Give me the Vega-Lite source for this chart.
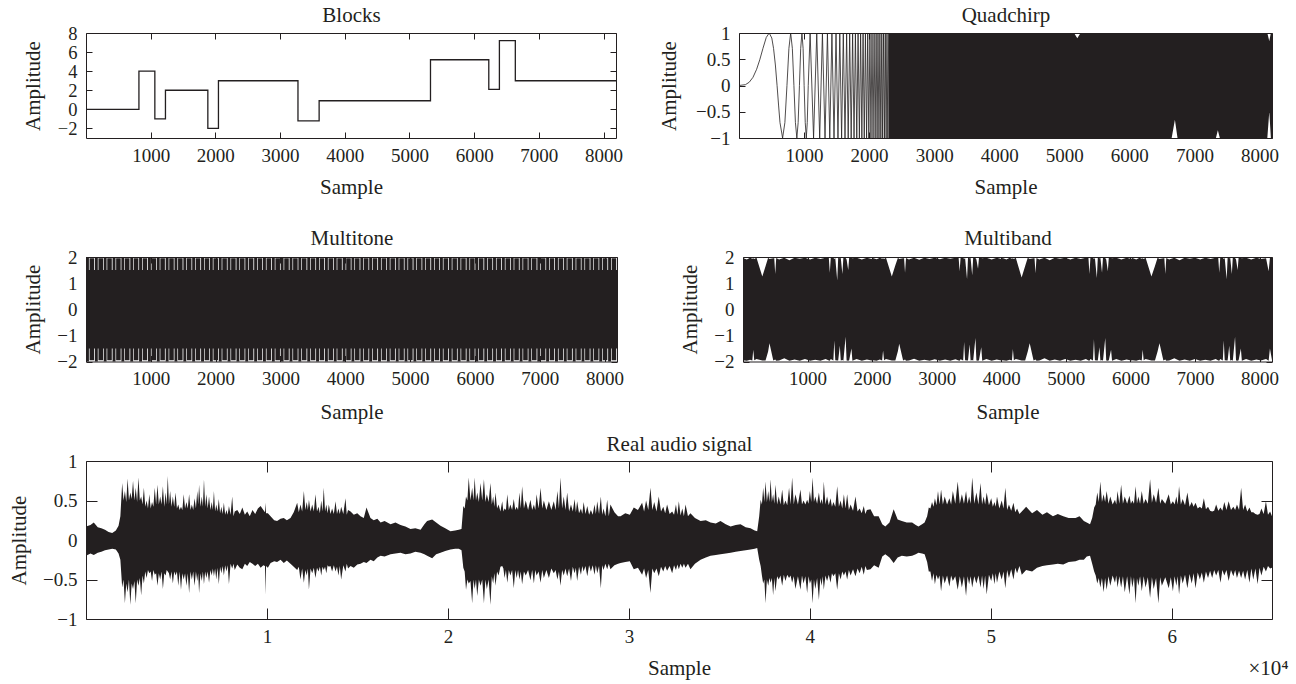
{
"$schema": "https://vega.github.io/schema/vega-lite/v6.json",
"padding": {"left": 1, "top": 3, "right": 5, "bottom": 5},
"spacing": 0,
"datasets": {
"blocks": [{"x":1,"y":0},{"x":819,"y":4},{"x":1065,"y":-1},{"x":1229,"y":2},{"x":1884,"y":-2},{"x":2048,"y":3},{"x":3277,"y":-1.2},{"x":3604,"y":0.9},{"x":5325,"y":5.2},{"x":6226,"y":2.1},{"x":6390,"y":7.2},{"x":6636,"y":3},{"x":8192,"y":3}],
"chirp": [{"x":1,"y":0},{"x":100,"y":0.016},{"x":159,"y":0.063},{"x":216,"y":0.156},{"x":272,"y":0.309},{"x":320,"y":0.489},{"x":369,"y":0.707},{"x":420,"y":0.915},{"x":465,"y":1},{"x":505,"y":0.905},{"x":532,"y":0.707},{"x":560,"y":0.391},{"x":586,"y":0},{"x":610,"y":-0.39},{"x":631,"y":-0.707},{"x":671,"y":-1},{"x":706,"y":-0.707},{"x":738,"y":0},{"x":768,"y":0.707},{"x":795,"y":1},{"x":821,"y":0.707},{"x":845,"y":0},{"x":868,"y":-0.707},{"x":890,"y":-1},{"x":910,"y":-0.707},{"x":930,"y":0},{"x":949,"y":0.707},{"x":968,"y":1},{"x":986,"y":0.707},{"x":1002,"y":0},{"x":1019,"y":-0.707},{"x":1035,"y":-1},{"x":1050,"y":-0.707},{"x":1065,"y":0},{"x":1094,"y":1},{"x":1147,"y":-1},{"x":1196,"y":1},{"x":1241,"y":-1},{"x":1283,"y":1},{"x":1323,"y":-1},{"x":1360,"y":1},{"x":1396,"y":-1},{"x":1429,"y":1},{"x":1461,"y":-1},{"x":1492,"y":1},{"x":1522,"y":-1},{"x":1550,"y":1},{"x":1578,"y":-1},{"x":1604,"y":1},{"x":1630,"y":-1},{"x":1655,"y":1},{"x":1679,"y":-1},{"x":1702,"y":1},{"x":1725,"y":-1},{"x":1747,"y":1},{"x":1769,"y":-1},{"x":1790,"y":1},{"x":1811,"y":-1},{"x":1831,"y":1},{"x":1851,"y":-1},{"x":1870,"y":1},{"x":1889,"y":-1},{"x":1908,"y":1},{"x":1926,"y":-1},{"x":1944,"y":1},{"x":1962,"y":-1},{"x":1979,"y":1},{"x":1996,"y":-1},{"x":2013,"y":1},{"x":2029,"y":-1},{"x":2045,"y":1},{"x":2061,"y":-1},{"x":2077,"y":1},{"x":2093,"y":-1},{"x":2108,"y":1},{"x":2123,"y":-1},{"x":2137,"y":1},{"x":2152,"y":-1},{"x":2166,"y":1},{"x":2181,"y":-1},{"x":2195,"y":1},{"x":2208,"y":-1},{"x":2222,"y":1},{"x":2236,"y":-1},{"x":2249,"y":1},{"x":2262,"y":-1},{"x":2275,"y":1},{"x":2288,"y":-1},{"x":2301,"y":1}],
"chirpband": [{"x":2300,"h":1,"l":-1},{"x":5150,"h":1,"l":-1},{"x":5200,"h":0.9,"l":-1},{"x":5250,"h":1,"l":-1},{"x":6650,"h":1,"l":-1},{"x":6700,"h":1,"l":-0.65},{"x":6740,"h":1,"l":-1},{"x":7330,"h":1,"l":-1},{"x":7360,"h":1,"l":-0.85},{"x":7390,"h":1,"l":-1},{"x":8120,"h":1,"l":-1},{"x":8150,"h":0.85,"l":-0.5},{"x":8175,"h":1,"l":-1},{"x":8192,"h":1,"l":-1}],
"multitone": [
{"x":1,"h":2,"l":-2},{"x":46,"h":1.5,"l":-1.5},{"x":56,"h":1.95,"l":-1.95},{"x":126,"h":1.5,"l":-1.5},
{"x":138,"h":2,"l":-2},{"x":183,"h":1.5,"l":-1.5},{"x":193,"h":1.95,"l":-1.95},{"x":263,"h":1.5,"l":-1.5},
{"x":274,"h":2,"l":-2},{"x":319,"h":1.5,"l":-1.5},{"x":329,"h":1.95,"l":-1.95},{"x":399,"h":1.5,"l":-1.5},
{"x":411,"h":2,"l":-2},{"x":456,"h":1.5,"l":-1.5},{"x":466,"h":1.95,"l":-1.95},{"x":536,"h":1.5,"l":-1.5},
{"x":547,"h":2,"l":-2},{"x":592,"h":1.5,"l":-1.5},{"x":602,"h":1.95,"l":-1.95},{"x":672,"h":1.5,"l":-1.5},
{"x":684,"h":2,"l":-2},{"x":729,"h":1.5,"l":-1.5},{"x":739,"h":1.95,"l":-1.95},{"x":809,"h":1.5,"l":-1.5},
{"x":820,"h":2,"l":-2},{"x":865,"h":1.5,"l":-1.5},{"x":875,"h":1.95,"l":-1.95},{"x":945,"h":1.5,"l":-1.5},
{"x":957,"h":2,"l":-2},{"x":1002,"h":1.5,"l":-1.5},{"x":1012,"h":1.95,"l":-1.95},{"x":1082,"h":1.5,"l":-1.5},
{"x":1093,"h":2,"l":-2},{"x":1138,"h":1.5,"l":-1.5},{"x":1148,"h":1.95,"l":-1.95},{"x":1218,"h":1.5,"l":-1.5},
{"x":1230,"h":2,"l":-2},{"x":1275,"h":1.5,"l":-1.5},{"x":1285,"h":1.95,"l":-1.95},{"x":1355,"h":1.5,"l":-1.5},
{"x":1366,"h":2,"l":-2},{"x":1411,"h":1.5,"l":-1.5},{"x":1421,"h":1.95,"l":-1.95},{"x":1491,"h":1.5,"l":-1.5},
{"x":1503,"h":2,"l":-2},{"x":1548,"h":1.5,"l":-1.5},{"x":1558,"h":1.95,"l":-1.95},{"x":1628,"h":1.5,"l":-1.5},
{"x":1639,"h":2,"l":-2},{"x":1684,"h":1.5,"l":-1.5},{"x":1694,"h":1.95,"l":-1.95},{"x":1764,"h":1.5,"l":-1.5},
{"x":1776,"h":2,"l":-2},{"x":1821,"h":1.5,"l":-1.5},{"x":1831,"h":1.95,"l":-1.95},{"x":1901,"h":1.5,"l":-1.5},
{"x":1912,"h":2,"l":-2},{"x":1957,"h":1.5,"l":-1.5},{"x":1967,"h":1.95,"l":-1.95},{"x":2037,"h":1.5,"l":-1.5},
{"x":2049,"h":2,"l":-2},{"x":2094,"h":1.5,"l":-1.5},{"x":2104,"h":1.95,"l":-1.95},{"x":2174,"h":1.5,"l":-1.5},
{"x":2185,"h":2,"l":-2},{"x":2230,"h":1.5,"l":-1.5},{"x":2240,"h":1.95,"l":-1.95},{"x":2310,"h":1.5,"l":-1.5},
{"x":2322,"h":2,"l":-2},{"x":2367,"h":1.5,"l":-1.5},{"x":2377,"h":1.95,"l":-1.95},{"x":2447,"h":1.5,"l":-1.5},
{"x":2458,"h":2,"l":-2},{"x":2503,"h":1.5,"l":-1.5},{"x":2513,"h":1.95,"l":-1.95},{"x":2583,"h":1.5,"l":-1.5},
{"x":2595,"h":2,"l":-2},{"x":2640,"h":1.5,"l":-1.5},{"x":2650,"h":1.95,"l":-1.95},{"x":2720,"h":1.5,"l":-1.5},
{"x":2731,"h":2,"l":-2},{"x":2776,"h":1.5,"l":-1.5},{"x":2786,"h":1.95,"l":-1.95},{"x":2856,"h":1.5,"l":-1.5},
{"x":2868,"h":2,"l":-2},{"x":2913,"h":1.5,"l":-1.5},{"x":2923,"h":1.95,"l":-1.95},{"x":2993,"h":1.5,"l":-1.5},
{"x":3004,"h":2,"l":-2},{"x":3049,"h":1.5,"l":-1.5},{"x":3059,"h":1.95,"l":-1.95},{"x":3129,"h":1.5,"l":-1.5},
{"x":3141,"h":2,"l":-2},{"x":3186,"h":1.5,"l":-1.5},{"x":3196,"h":1.95,"l":-1.95},{"x":3266,"h":1.5,"l":-1.5},
{"x":3277,"h":2,"l":-2},{"x":3322,"h":1.5,"l":-1.5},{"x":3332,"h":1.95,"l":-1.95},{"x":3402,"h":1.5,"l":-1.5},
{"x":3414,"h":2,"l":-2},{"x":3459,"h":1.5,"l":-1.5},{"x":3469,"h":1.95,"l":-1.95},{"x":3539,"h":1.5,"l":-1.5},
{"x":3550,"h":2,"l":-2},{"x":3595,"h":1.5,"l":-1.5},{"x":3605,"h":1.95,"l":-1.95},{"x":3675,"h":1.5,"l":-1.5},
{"x":3687,"h":2,"l":-2},{"x":3732,"h":1.5,"l":-1.5},{"x":3742,"h":1.95,"l":-1.95},{"x":3812,"h":1.5,"l":-1.5},
{"x":3823,"h":2,"l":-2},{"x":3868,"h":1.5,"l":-1.5},{"x":3878,"h":1.95,"l":-1.95},{"x":3948,"h":1.5,"l":-1.5},
{"x":3960,"h":2,"l":-2},{"x":4005,"h":1.5,"l":-1.5},{"x":4015,"h":1.95,"l":-1.95},{"x":4085,"h":1.5,"l":-1.5},
{"x":4096,"h":2,"l":-2},{"x":4141,"h":1.5,"l":-1.5},{"x":4151,"h":1.95,"l":-1.95},{"x":4221,"h":1.5,"l":-1.5},
{"x":4233,"h":2,"l":-2},{"x":4278,"h":1.5,"l":-1.5},{"x":4288,"h":1.95,"l":-1.95},{"x":4358,"h":1.5,"l":-1.5},
{"x":4369,"h":2,"l":-2},{"x":4414,"h":1.5,"l":-1.5},{"x":4424,"h":1.95,"l":-1.95},{"x":4494,"h":1.5,"l":-1.5},
{"x":4506,"h":2,"l":-2},{"x":4551,"h":1.5,"l":-1.5},{"x":4561,"h":1.95,"l":-1.95},{"x":4631,"h":1.5,"l":-1.5},
{"x":4642,"h":2,"l":-2},{"x":4687,"h":1.5,"l":-1.5},{"x":4697,"h":1.95,"l":-1.95},{"x":4767,"h":1.5,"l":-1.5},
{"x":4779,"h":2,"l":-2},{"x":4824,"h":1.5,"l":-1.5},{"x":4834,"h":1.95,"l":-1.95},{"x":4904,"h":1.5,"l":-1.5},
{"x":4915,"h":2,"l":-2},{"x":4960,"h":1.5,"l":-1.5},{"x":4970,"h":1.95,"l":-1.95},{"x":5040,"h":1.5,"l":-1.5},
{"x":5052,"h":2,"l":-2},{"x":5097,"h":1.5,"l":-1.5},{"x":5107,"h":1.95,"l":-1.95},{"x":5177,"h":1.5,"l":-1.5},
{"x":5188,"h":2,"l":-2},{"x":5233,"h":1.5,"l":-1.5},{"x":5243,"h":1.95,"l":-1.95},{"x":5313,"h":1.5,"l":-1.5},
{"x":5325,"h":2,"l":-2},{"x":5370,"h":1.5,"l":-1.5},{"x":5380,"h":1.95,"l":-1.95},{"x":5450,"h":1.5,"l":-1.5},
{"x":5461,"h":2,"l":-2},{"x":5506,"h":1.5,"l":-1.5},{"x":5516,"h":1.95,"l":-1.95},{"x":5586,"h":1.5,"l":-1.5},
{"x":5598,"h":2,"l":-2},{"x":5643,"h":1.5,"l":-1.5},{"x":5653,"h":1.95,"l":-1.95},{"x":5723,"h":1.5,"l":-1.5},
{"x":5734,"h":2,"l":-2},{"x":5779,"h":1.5,"l":-1.5},{"x":5789,"h":1.95,"l":-1.95},{"x":5859,"h":1.5,"l":-1.5},
{"x":5871,"h":2,"l":-2},{"x":5916,"h":1.5,"l":-1.5},{"x":5926,"h":1.95,"l":-1.95},{"x":5996,"h":1.5,"l":-1.5},
{"x":6007,"h":2,"l":-2},{"x":6052,"h":1.5,"l":-1.5},{"x":6062,"h":1.95,"l":-1.95},{"x":6132,"h":1.5,"l":-1.5},
{"x":6144,"h":2,"l":-2},{"x":6189,"h":1.5,"l":-1.5},{"x":6199,"h":1.95,"l":-1.95},{"x":6269,"h":1.5,"l":-1.5},
{"x":6280,"h":2,"l":-2},{"x":6325,"h":1.5,"l":-1.5},{"x":6335,"h":1.95,"l":-1.95},{"x":6405,"h":1.5,"l":-1.5},
{"x":6417,"h":2,"l":-2},{"x":6462,"h":1.5,"l":-1.5},{"x":6472,"h":1.95,"l":-1.95},{"x":6542,"h":1.5,"l":-1.5},
{"x":6553,"h":2,"l":-2},{"x":6598,"h":1.5,"l":-1.5},{"x":6608,"h":1.95,"l":-1.95},{"x":6678,"h":1.5,"l":-1.5},
{"x":6690,"h":2,"l":-2},{"x":6735,"h":1.5,"l":-1.5},{"x":6745,"h":1.95,"l":-1.95},{"x":6815,"h":1.5,"l":-1.5},
{"x":6826,"h":2,"l":-2},{"x":6871,"h":1.5,"l":-1.5},{"x":6881,"h":1.95,"l":-1.95},{"x":6951,"h":1.5,"l":-1.5},
{"x":6963,"h":2,"l":-2},{"x":7008,"h":1.5,"l":-1.5},{"x":7018,"h":1.95,"l":-1.95},{"x":7088,"h":1.5,"l":-1.5},
{"x":7099,"h":2,"l":-2},{"x":7144,"h":1.5,"l":-1.5},{"x":7154,"h":1.95,"l":-1.95},{"x":7224,"h":1.5,"l":-1.5},
{"x":7236,"h":2,"l":-2},{"x":7281,"h":1.5,"l":-1.5},{"x":7291,"h":1.95,"l":-1.95},{"x":7361,"h":1.5,"l":-1.5},
{"x":7372,"h":2,"l":-2},{"x":7417,"h":1.5,"l":-1.5},{"x":7427,"h":1.95,"l":-1.95},{"x":7497,"h":1.5,"l":-1.5},
{"x":7509,"h":2,"l":-2},{"x":7554,"h":1.5,"l":-1.5},{"x":7564,"h":1.95,"l":-1.95},{"x":7634,"h":1.5,"l":-1.5},
{"x":7645,"h":2,"l":-2},{"x":7690,"h":1.5,"l":-1.5},{"x":7700,"h":1.95,"l":-1.95},{"x":7770,"h":1.5,"l":-1.5},
{"x":7782,"h":2,"l":-2},{"x":7827,"h":1.5,"l":-1.5},{"x":7837,"h":1.95,"l":-1.95},{"x":7907,"h":1.5,"l":-1.5},
{"x":7918,"h":2,"l":-2},{"x":7963,"h":1.5,"l":-1.5},{"x":7973,"h":1.95,"l":-1.95},{"x":8043,"h":1.5,"l":-1.5},
{"x":8055,"h":2,"l":-2},{"x":8100,"h":1.5,"l":-1.5},{"x":8110,"h":1.95,"l":-1.95},{"x":8180,"h":1.5,"l":-1.5},
{"x":8192,"h":1.95,"l":-1.95}],
"multiband": [{"x":1,"h":1.96,"l":-1.95},{"x":60,"h":1.9,"l":-1.97},{"x":110,"h":1.97,"l":-1.93},{"x":145,"h":1.93,"l":-1.96},{"x":160,"h":1.95,"l":-1.55},{"x":175,"h":1.92,"l":-1.95},{"x":210,"h":1.97,"l":-1.9},{"x":300,"h":1.25,"l":-1.96},{"x":350,"h":1.65,"l":-1.96},{"x":390,"h":1.97,"l":-1.62},{"x":411,"h":1.92,"l":-1.3},{"x":470,"h":1.95,"l":-1.96},{"x":485,"h":1.95,"l":-1.94},{"x":500,"h":1.35,"l":-1.92},{"x":515,"h":1.96,"l":-1.97},{"x":560,"h":1.9,"l":-1.96},{"x":640,"h":1.97,"l":-1.88},{"x":720,"h":1.88,"l":-1.97},{"x":800,"h":1.97,"l":-1.92},{"x":880,"h":1.93,"l":-1.97},{"x":960,"h":1.97,"l":-1.9},{"x":1040,"h":1.9,"l":-1.97},{"x":1120,"h":1.97,"l":-1.93},{"x":1200,"h":1.92,"l":-1.97},{"x":1280,"h":1.97,"l":-1.9},{"x":1330,"h":1.96,"l":-1.96},{"x":1345,"h":1.4,"l":-1.97},{"x":1360,"h":1.96,"l":-1.9},{"x":1400,"h":1.97,"l":-1.96},{"x":1415,"h":1.92,"l":-1.2},{"x":1430,"h":1.96,"l":-1.95},{"x":1460,"h":1.1,"l":-1.96},{"x":1475,"h":1.97,"l":-1.96},{"x":1500,"h":1.95,"l":-1.4},{"x":1515,"h":1.96,"l":-1.96},{"x":1540,"h":1.35,"l":-1.94},{"x":1555,"h":1.97,"l":-1.97},{"x":1590,"h":1.96,"l":-1.05},{"x":1605,"h":1.9,"l":-1.96},{"x":1630,"h":1.5,"l":-1.97},{"x":1645,"h":1.97,"l":-1.95},{"x":1680,"h":1.96,"l":-1.5},{"x":1695,"h":1.95,"l":-1.97},{"x":1760,"h":1.97,"l":-1.9},{"x":1840,"h":1.9,"l":-1.97},{"x":1920,"h":1.97,"l":-1.92},{"x":1990,"h":1.92,"l":-1.96},
{"x":2010,"h":1.96,"l":-1.95},{"x":2070,"h":1.91,"l":-1.97},{"x":2120,"h":1.97,"l":-1.92},{"x":2155,"h":1.93,"l":-1.96},{"x":2170,"h":1.95,"l":-1.58},{"x":2185,"h":1.92,"l":-1.95},{"x":2215,"h":1.97,"l":-1.9},{"x":2305,"h":1.25,"l":-1.96},{"x":2360,"h":1.68,"l":-1.96},{"x":2400,"h":1.97,"l":-1.6},{"x":2420,"h":1.92,"l":-1.32},{"x":2480,"h":1.95,"l":-1.96},{"x":2495,"h":1.95,"l":-1.94},{"x":2510,"h":1.4,"l":-1.92},{"x":2525,"h":1.96,"l":-1.97},{"x":2570,"h":1.9,"l":-1.96},{"x":2650,"h":1.97,"l":-1.89},{"x":2730,"h":1.89,"l":-1.97},{"x":2810,"h":1.97,"l":-1.93},{"x":2890,"h":1.92,"l":-1.97},{"x":2970,"h":1.97,"l":-1.91},{"x":3050,"h":1.91,"l":-1.97},{"x":3130,"h":1.97,"l":-1.92},{"x":3210,"h":1.93,"l":-1.97},{"x":3290,"h":1.97,"l":-1.91},{"x":3340,"h":1.96,"l":-1.96},{"x":3355,"h":1.45,"l":-1.97},{"x":3370,"h":1.96,"l":-1.91},{"x":3410,"h":1.97,"l":-1.96},{"x":3425,"h":1.92,"l":-1.25},{"x":3440,"h":1.96,"l":-1.95},{"x":3470,"h":1.15,"l":-1.96},{"x":3485,"h":1.97,"l":-1.96},{"x":3510,"h":1.95,"l":-1.35},{"x":3525,"h":1.96,"l":-1.96},{"x":3550,"h":1.3,"l":-1.94},{"x":3565,"h":1.97,"l":-1.97},{"x":3600,"h":1.96,"l":-1.1},{"x":3615,"h":1.9,"l":-1.96},{"x":3640,"h":1.55,"l":-1.97},{"x":3655,"h":1.97,"l":-1.95},{"x":3690,"h":1.96,"l":-1.45},{"x":3705,"h":1.95,"l":-1.97},{"x":3770,"h":1.97,"l":-1.9},{"x":3850,"h":1.9,"l":-1.97},{"x":3930,"h":1.97,"l":-1.92},{"x":4000,"h":1.92,"l":-1.96},
{"x":4020,"h":1.96,"l":-1.95},{"x":4080,"h":1.9,"l":-1.97},{"x":4130,"h":1.97,"l":-1.93},{"x":4165,"h":1.93,"l":-1.96},{"x":4180,"h":1.95,"l":-1.52},{"x":4195,"h":1.92,"l":-1.95},{"x":4225,"h":1.97,"l":-1.9},{"x":4315,"h":1.22,"l":-1.96},{"x":4370,"h":1.66,"l":-1.96},{"x":4410,"h":1.97,"l":-1.62},{"x":4440,"h":1.92,"l":-1.3},{"x":4500,"h":1.95,"l":-1.96},{"x":4515,"h":1.95,"l":-1.94},{"x":4530,"h":1.38,"l":-1.92},{"x":4545,"h":1.96,"l":-1.97},{"x":4590,"h":1.9,"l":-1.96},{"x":4670,"h":1.97,"l":-1.88},{"x":4750,"h":1.88,"l":-1.97},{"x":4830,"h":1.97,"l":-1.92},{"x":4910,"h":1.93,"l":-1.97},{"x":4990,"h":1.97,"l":-1.9},{"x":5070,"h":1.9,"l":-1.97},{"x":5150,"h":1.97,"l":-1.93},{"x":5230,"h":1.92,"l":-1.97},{"x":5310,"h":1.97,"l":-1.9},{"x":5350,"h":1.96,"l":-1.96},{"x":5365,"h":1.35,"l":-1.97},{"x":5380,"h":1.96,"l":-1.9},{"x":5420,"h":1.97,"l":-1.96},{"x":5435,"h":1.92,"l":-1.15},{"x":5450,"h":1.96,"l":-1.95},{"x":5480,"h":1.2,"l":-1.96},{"x":5495,"h":1.97,"l":-1.96},{"x":5520,"h":1.95,"l":-1.45},{"x":5535,"h":1.96,"l":-1.96},{"x":5560,"h":1.4,"l":-1.94},{"x":5575,"h":1.97,"l":-1.97},{"x":5610,"h":1.96,"l":-1.1},{"x":5625,"h":1.9,"l":-1.96},{"x":5650,"h":1.45,"l":-1.97},{"x":5665,"h":1.97,"l":-1.95},{"x":5700,"h":1.96,"l":-1.55},{"x":5715,"h":1.95,"l":-1.97},{"x":5780,"h":1.97,"l":-1.9},{"x":5860,"h":1.9,"l":-1.97},{"x":5940,"h":1.97,"l":-1.92},{"x":6010,"h":1.92,"l":-1.96},
{"x":6030,"h":1.96,"l":-1.95},{"x":6090,"h":1.9,"l":-1.97},{"x":6140,"h":1.97,"l":-1.93},{"x":6175,"h":1.93,"l":-1.96},{"x":6190,"h":1.95,"l":-1.55},{"x":6205,"h":1.92,"l":-1.95},{"x":6235,"h":1.97,"l":-1.9},{"x":6325,"h":1.25,"l":-1.96},{"x":6380,"h":1.66,"l":-1.96},{"x":6420,"h":1.97,"l":-1.62},{"x":6450,"h":1.92,"l":-1.3},{"x":6510,"h":1.95,"l":-1.96},{"x":6525,"h":1.95,"l":-1.94},{"x":6540,"h":1.35,"l":-1.92},{"x":6555,"h":1.96,"l":-1.97},{"x":6600,"h":1.9,"l":-1.96},{"x":6680,"h":1.97,"l":-1.88},{"x":6760,"h":1.88,"l":-1.97},{"x":6840,"h":1.97,"l":-1.92},{"x":6920,"h":1.93,"l":-1.97},{"x":7000,"h":1.97,"l":-1.9},{"x":7080,"h":1.9,"l":-1.97},{"x":7160,"h":1.97,"l":-1.93},{"x":7240,"h":1.92,"l":-1.97},{"x":7320,"h":1.97,"l":-1.9},{"x":7360,"h":1.96,"l":-1.96},{"x":7375,"h":1.4,"l":-1.97},{"x":7390,"h":1.96,"l":-1.9},{"x":7430,"h":1.97,"l":-1.96},{"x":7445,"h":1.92,"l":-1.2},{"x":7460,"h":1.96,"l":-1.95},{"x":7490,"h":1.15,"l":-1.96},{"x":7505,"h":1.97,"l":-1.96},{"x":7530,"h":1.95,"l":-1.4},{"x":7545,"h":1.96,"l":-1.96},{"x":7570,"h":1.35,"l":-1.94},{"x":7585,"h":1.97,"l":-1.97},{"x":7620,"h":1.96,"l":-1.05},{"x":7635,"h":1.9,"l":-1.96},{"x":7660,"h":1.5,"l":-1.97},{"x":7675,"h":1.97,"l":-1.95},{"x":7710,"h":1.96,"l":-1.5},{"x":7725,"h":1.95,"l":-1.97},{"x":7790,"h":1.97,"l":-1.9},{"x":7870,"h":1.9,"l":-1.97},{"x":7950,"h":1.97,"l":-1.92},{"x":8020,"h":1.92,"l":-1.96},{"x":8100,"h":1.95,"l":-1.9},{"x":8140,"h":1.45,"l":-1.97},{"x":8160,"h":1.96,"l":-1.5},{"x":8192,"h":1.96,"l":-1.95}],
"audio": [{"x":1,"h":0.17,"l":-0.2},{"x":250,"h":0.19,"l":-0.17},{"x":430,"h":0.22,"l":-0.19},{"x":650,"h":0.16,"l":-0.16},{"x":850,"h":0.15,"l":-0.15},{"x":1050,"h":0.13,"l":-0.13},{"x":1250,"h":0.1,"l":-0.12},{"x":1450,"h":0.09,"l":-0.11},{"x":1650,"h":0.12,"l":-0.12},{"x":1800,"h":0.18,"l":-0.17},{"x":1900,"h":0.3,"l":-0.25},
{"x":2000,"h":0.72,"l":-0.6},{"x":2075,"h":0.5,"l":-0.5},{"x":2150,"h":0.62,"l":-0.8},{"x":2225,"h":0.48,"l":-0.55},{"x":2300,"h":0.78,"l":-0.66},{"x":2375,"h":0.5,"l":-0.5},{"x":2450,"h":0.6,"l":-0.82},{"x":2525,"h":0.52,"l":-0.55},{"x":2600,"h":0.75,"l":-0.62},{"x":2675,"h":0.5,"l":-0.52},{"x":2750,"h":0.66,"l":-0.8},{"x":2825,"h":0.48,"l":-0.5},{"x":2900,"h":0.79,"l":-0.58},{"x":2975,"h":0.5,"l":-0.48},{"x":3050,"h":0.55,"l":-0.7},{"x":3125,"h":0.45,"l":-0.45},{"x":3200,"h":0.66,"l":-0.55},{"x":3275,"h":0.42,"l":-0.4},{"x":3350,"h":0.5,"l":-0.48},{"x":3425,"h":0.4,"l":-0.38},{"x":3500,"h":0.58,"l":-0.42},{"x":3575,"h":0.4,"l":-0.4},{"x":3650,"h":0.48,"l":-0.52},{"x":3725,"h":0.42,"l":-0.38},{"x":3800,"h":0.66,"l":-0.44},{"x":3875,"h":0.45,"l":-0.42},{"x":3950,"h":0.7,"l":-0.58},{"x":4025,"h":0.45,"l":-0.42},{"x":4100,"h":0.55,"l":-0.5},{"x":4175,"h":0.45,"l":-0.4},{"x":4250,"h":0.68,"l":-0.62},{"x":4325,"h":0.42,"l":-0.42},{"x":4400,"h":0.6,"l":-0.45},{"x":4460,"h":0.45,"l":-0.38},{"x":4520,"h":0.81,"l":-0.4},{"x":4585,"h":0.45,"l":-0.42},{"x":4650,"h":0.62,"l":-0.5},{"x":4725,"h":0.42,"l":-0.4},{"x":4800,"h":0.55,"l":-0.55},{"x":4875,"h":0.42,"l":-0.4},{"x":4950,"h":0.6,"l":-0.45},{"x":5025,"h":0.4,"l":-0.4},{"x":5100,"h":0.45,"l":-0.58},{"x":5175,"h":0.38,"l":-0.4},{"x":5250,"h":0.42,"l":-0.63},{"x":5325,"h":0.38,"l":-0.42},{"x":5400,"h":0.58,"l":-0.5},{"x":5475,"h":0.4,"l":-0.42},{"x":5550,"h":0.48,"l":-0.58},{"x":5625,"h":0.4,"l":-0.42},{"x":5700,"h":0.58,"l":-0.67},{"x":5775,"h":0.38,"l":-0.4},{"x":5850,"h":0.45,"l":-0.5},{"x":5925,"h":0.38,"l":-0.4},{"x":6000,"h":0.53,"l":-0.58},{"x":6075,"h":0.4,"l":-0.4},{"x":6150,"h":0.62,"l":-0.52},{"x":6200,"h":0.45,"l":-0.42},{"x":6250,"h":0.7,"l":-0.67},{"x":6325,"h":0.42,"l":-0.42},{"x":6400,"h":0.55,"l":-0.52},{"x":6460,"h":0.42,"l":-0.4},{"x":6520,"h":0.77,"l":-0.56},{"x":6585,"h":0.42,"l":-0.4},{"x":6650,"h":0.58,"l":-0.48},{"x":6725,"h":0.4,"l":-0.4},{"x":6800,"h":0.55,"l":-0.54},{"x":6875,"h":0.38,"l":-0.38},{"x":6950,"h":0.48,"l":-0.45},{"x":7010,"h":0.38,"l":-0.36},{"x":7070,"h":0.62,"l":-0.46},{"x":7135,"h":0.36,"l":-0.36},{"x":7200,"h":0.45,"l":-0.5},{"x":7270,"h":0.36,"l":-0.35},{"x":7340,"h":0.52,"l":-0.56},{"x":7410,"h":0.34,"l":-0.34},{"x":7480,"h":0.42,"l":-0.42},{"x":7550,"h":0.33,"l":-0.33},{"x":7620,"h":0.47,"l":-0.45},{"x":7690,"h":0.32,"l":-0.32},{"x":7760,"h":0.38,"l":-0.4},{"x":7830,"h":0.32,"l":-0.32},{"x":7900,"h":0.43,"l":-0.56},{"x":7990,"h":0.32,"l":-0.3},{"x":8080,"h":0.55,"l":-0.36},{"x":8150,"h":0.3,"l":-0.3},
{"x":8220,"h":0.36,"l":-0.38},{"x":8360,"h":0.38,"l":-0.31},{"x":8500,"h":0.33,"l":-0.35},{"x":8640,"h":0.41,"l":-0.37},{"x":8780,"h":0.32,"l":-0.3},{"x":8910,"h":0.36,"l":-0.33},{"x":9050,"h":0.3,"l":-0.28},{"x":9200,"h":0.38,"l":-0.3},{"x":9350,"h":0.33,"l":-0.33},{"x":9500,"h":0.4,"l":-0.3},{"x":9650,"h":0.43,"l":-0.35},{"x":9800,"h":0.38,"l":-0.32},{"x":9890,"h":0.35,"l":-0.33},{"x":9920,"h":0.47,"l":-0.69},{"x":9950,"h":0.34,"l":-0.33},{"x":10050,"h":0.34,"l":-0.35},{"x":10200,"h":0.3,"l":-0.29},{"x":10400,"h":0.25,"l":-0.27},{"x":10560,"h":0.24,"l":-0.28},{"x":10750,"h":0.27,"l":-0.25},{"x":10930,"h":0.28,"l":-0.29},{"x":11100,"h":0.25,"l":-0.26},{"x":11300,"h":0.28,"l":-0.3},{"x":11480,"h":0.35,"l":-0.34},
{"x":11670,"h":0.47,"l":-0.38},{"x":11760,"h":0.35,"l":-0.34},{"x":11850,"h":0.45,"l":-0.5},{"x":11945,"h":0.36,"l":-0.36},{"x":12040,"h":0.62,"l":-0.54},{"x":12120,"h":0.38,"l":-0.38},{"x":12200,"h":0.48,"l":-0.45},{"x":12260,"h":0.38,"l":-0.36},{"x":12320,"h":0.51,"l":-0.63},{"x":12410,"h":0.36,"l":-0.36},{"x":12500,"h":0.45,"l":-0.42},{"x":12590,"h":0.36,"l":-0.35},{"x":12680,"h":0.58,"l":-0.48},{"x":12765,"h":0.36,"l":-0.35},{"x":12850,"h":0.42,"l":-0.4},{"x":12925,"h":0.34,"l":-0.34},{"x":13000,"h":0.5,"l":-0.45},{"x":13070,"h":0.36,"l":-0.34},{"x":13140,"h":0.66,"l":-0.38},{"x":13210,"h":0.36,"l":-0.34},{"x":13280,"h":0.45,"l":-0.42},{"x":13350,"h":0.34,"l":-0.32},{"x":13420,"h":0.45,"l":-0.34},{"x":13510,"h":0.33,"l":-0.33},{"x":13600,"h":0.4,"l":-0.4},{"x":13695,"h":0.33,"l":-0.32},{"x":13790,"h":0.49,"l":-0.4},{"x":13870,"h":0.33,"l":-0.34},{"x":13950,"h":0.4,"l":-0.45},{"x":14025,"h":0.33,"l":-0.33},{"x":14100,"h":0.42,"l":-0.5},{"x":14220,"h":0.33,"l":-0.32},{"x":14340,"h":0.53,"l":-0.4},{"x":14410,"h":0.32,"l":-0.3},{"x":14480,"h":0.38,"l":-0.36},
{"x":14620,"h":0.36,"l":-0.33},{"x":14800,"h":0.32,"l":-0.35},{"x":14990,"h":0.34,"l":-0.31},{"x":15170,"h":0.3,"l":-0.3},{"x":15350,"h":0.28,"l":-0.28},{"x":15500,"h":0.41,"l":-0.29},{"x":15720,"h":0.28,"l":-0.25},{"x":15900,"h":0.25,"l":-0.27},{"x":16100,"h":0.27,"l":-0.22},{"x":16280,"h":0.22,"l":-0.2},{"x":16500,"h":0.24,"l":-0.21},{"x":16830,"h":0.2,"l":-0.18},{"x":17100,"h":0.22,"l":-0.17},{"x":17380,"h":0.19,"l":-0.16},{"x":17650,"h":0.17,"l":-0.18},{"x":17930,"h":0.14,"l":-0.17},{"x":18200,"h":0.15,"l":-0.15},{"x":18490,"h":0.13,"l":-0.16},{"x":18700,"h":0.2,"l":-0.18},{"x":18850,"h":0.24,"l":-0.2},{"x":19130,"h":0.26,"l":-0.23},{"x":19350,"h":0.22,"l":-0.18},{"x":19590,"h":0.18,"l":-0.16},{"x":19850,"h":0.15,"l":-0.14},{"x":20140,"h":0.11,"l":-0.12},{"x":20400,"h":0.12,"l":-0.11},{"x":20600,"h":0.13,"l":-0.11},{"x":20750,"h":0.14,"l":-0.13},
{"x":20850,"h":0.43,"l":-0.35},{"x":20925,"h":0.4,"l":-0.4},{"x":21000,"h":0.55,"l":-0.63},{"x":21075,"h":0.5,"l":-0.5},{"x":21150,"h":0.79,"l":-0.55},{"x":21245,"h":0.5,"l":-0.52},{"x":21340,"h":0.66,"l":-0.8},{"x":21410,"h":0.5,"l":-0.5},{"x":21480,"h":0.79,"l":-0.62},{"x":21550,"h":0.5,"l":-0.5},{"x":21620,"h":0.6,"l":-0.71},{"x":21710,"h":0.48,"l":-0.5},{"x":21800,"h":0.72,"l":-0.58},{"x":21895,"h":0.5,"l":-0.5},{"x":21990,"h":0.77,"l":-0.8},{"x":22070,"h":0.48,"l":-0.5},{"x":22150,"h":0.58,"l":-0.62},{"x":22250,"h":0.48,"l":-0.5},{"x":22350,"h":0.72,"l":-0.82},{"x":22425,"h":0.45,"l":-0.46},{"x":22500,"h":0.55,"l":-0.55},{"x":22565,"h":0.42,"l":-0.42},{"x":22630,"h":0.6,"l":-0.58},{"x":22715,"h":0.4,"l":-0.4},{"x":22800,"h":0.45,"l":-0.45},{"x":22900,"h":0.36,"l":-0.34},{"x":23000,"h":0.49,"l":-0.33},{"x":23065,"h":0.36,"l":-0.36},{"x":23130,"h":0.4,"l":-0.48},{"x":23205,"h":0.38,"l":-0.38},{"x":23280,"h":0.58,"l":-0.54},{"x":23365,"h":0.38,"l":-0.38},{"x":23450,"h":0.45,"l":-0.45},{"x":23545,"h":0.38,"l":-0.38},{"x":23640,"h":0.52,"l":-0.61},{"x":23720,"h":0.38,"l":-0.38},{"x":23800,"h":0.42,"l":-0.48},{"x":23875,"h":0.38,"l":-0.38},{"x":23950,"h":0.6,"l":-0.5},{"x":24025,"h":0.4,"l":-0.4},{"x":24100,"h":0.68,"l":-0.56},{"x":24200,"h":0.4,"l":-0.4},{"x":24300,"h":0.5,"l":-0.45},{"x":24430,"h":0.38,"l":-0.38},{"x":24560,"h":0.51,"l":-0.51},{"x":24655,"h":0.38,"l":-0.38},{"x":24750,"h":0.45,"l":-0.55},{"x":24825,"h":0.38,"l":-0.38},{"x":24900,"h":0.58,"l":-0.45},{"x":25010,"h":0.4,"l":-0.4},{"x":25120,"h":0.66,"l":-0.54},{"x":25210,"h":0.4,"l":-0.38},{"x":25300,"h":0.5,"l":-0.48},{"x":25440,"h":0.38,"l":-0.38},{"x":25580,"h":0.49,"l":-0.48},{"x":25715,"h":0.38,"l":-0.36},{"x":25850,"h":0.49,"l":-0.42},{"x":25950,"h":0.38,"l":-0.38},{"x":26050,"h":0.62,"l":-0.5},{"x":26135,"h":0.4,"l":-0.4},{"x":26220,"h":0.79,"l":-0.58},{"x":26310,"h":0.4,"l":-0.38},{"x":26400,"h":0.55,"l":-0.45},{"x":26495,"h":0.38,"l":-0.36},{"x":26590,"h":0.6,"l":-0.46},{"x":26695,"h":0.36,"l":-0.36},{"x":26800,"h":0.45,"l":-0.52},{"x":26900,"h":0.36,"l":-0.34},{"x":27000,"h":0.52,"l":-0.42},{"x":27070,"h":0.35,"l":-0.35},{"x":27140,"h":0.49,"l":-0.52},{"x":27245,"h":0.34,"l":-0.34},{"x":27350,"h":0.4,"l":-0.44},{"x":27425,"h":0.33,"l":-0.33},{"x":27500,"h":0.48,"l":-0.4},{"x":27600,"h":0.33,"l":-0.33},{"x":27700,"h":0.43,"l":-0.46},{"x":27800,"h":0.32,"l":-0.32},{"x":27900,"h":0.38,"l":-0.4},{"x":28000,"h":0.32,"l":-0.32},{"x":28100,"h":0.45,"l":-0.44},{"x":28175,"h":0.33,"l":-0.32},{"x":28250,"h":0.49,"l":-0.42},{"x":28350,"h":0.33,"l":-0.33},{"x":28450,"h":0.55,"l":-0.61},{"x":28525,"h":0.32,"l":-0.32},{"x":28600,"h":0.4,"l":-0.38},{"x":28700,"h":0.3,"l":-0.3},{"x":28800,"h":0.51,"l":-0.37},{"x":28890,"h":0.3,"l":-0.3},{"x":28980,"h":0.45,"l":-0.37},
{"x":29200,"h":0.35,"l":-0.32},{"x":29400,"h":0.3,"l":-0.3},{"x":29540,"h":0.3,"l":-0.29},{"x":29800,"h":0.34,"l":-0.28},{"x":30050,"h":0.32,"l":-0.27},{"x":30270,"h":0.41,"l":-0.37},{"x":30500,"h":0.38,"l":-0.35},
{"x":30730,"h":0.47,"l":-0.44},{"x":30840,"h":0.36,"l":-0.36},{"x":30950,"h":0.5,"l":-0.48},{"x":31070,"h":0.38,"l":-0.38},{"x":31190,"h":0.66,"l":-0.67},{"x":31295,"h":0.38,"l":-0.36},{"x":31400,"h":0.48,"l":-0.42},{"x":31525,"h":0.36,"l":-0.36},{"x":31650,"h":0.55,"l":-0.46},{"x":31775,"h":0.36,"l":-0.34},{"x":31900,"h":0.42,"l":-0.4},{"x":32005,"h":0.34,"l":-0.33},{"x":32110,"h":0.45,"l":-0.39},{"x":32250,"h":0.33,"l":-0.33},{"x":32390,"h":0.36,"l":-0.42},{"x":32495,"h":0.32,"l":-0.32},{"x":32600,"h":0.45,"l":-0.38},{"x":32680,"h":0.32,"l":-0.31},{"x":32760,"h":0.49,"l":-0.37},{"x":32855,"h":0.31,"l":-0.3},{"x":32950,"h":0.4,"l":-0.35},{"x":33040,"h":0.3,"l":-0.3},{"x":33130,"h":0.45,"l":-0.35},{"x":33265,"h":0.3,"l":-0.3},{"x":33400,"h":0.34,"l":-0.37},
{"x":33650,"h":0.28,"l":-0.3},{"x":33960,"h":0.24,"l":-0.25},{"x":34250,"h":0.25,"l":-0.22},{"x":34510,"h":0.22,"l":-0.2},{"x":34800,"h":0.21,"l":-0.19},{"x":35060,"h":0.24,"l":-0.18},{"x":35350,"h":0.2,"l":-0.17},{"x":35620,"h":0.17,"l":-0.16},{"x":35900,"h":0.19,"l":-0.15},{"x":36170,"h":0.2,"l":-0.14},{"x":36450,"h":0.16,"l":-0.13},{"x":36720,"h":0.15,"l":-0.12},{"x":36950,"h":0.12,"l":-0.11},{"x":37090,"h":0.11,"l":-0.1},{"x":37200,"h":0.3,"l":-0.25},
{"x":37280,"h":0.51,"l":-0.33},{"x":37350,"h":0.45,"l":-0.45},{"x":37420,"h":0.66,"l":-0.55},{"x":37485,"h":0.48,"l":-0.5},{"x":37550,"h":0.74,"l":-0.8},{"x":37625,"h":0.48,"l":-0.5},{"x":37700,"h":0.62,"l":-0.58},{"x":37765,"h":0.48,"l":-0.48},{"x":37830,"h":0.77,"l":-0.54},{"x":37900,"h":0.48,"l":-0.48},{"x":37970,"h":0.58,"l":-0.7},{"x":38035,"h":0.46,"l":-0.48},{"x":38100,"h":0.7,"l":-0.65},{"x":38190,"h":0.45,"l":-0.46},{"x":38280,"h":0.55,"l":-0.5},{"x":38375,"h":0.45,"l":-0.45},{"x":38470,"h":0.64,"l":-0.58},{"x":38560,"h":0.44,"l":-0.44},{"x":38650,"h":0.5,"l":-0.52},{"x":38750,"h":0.44,"l":-0.44},{"x":38850,"h":0.66,"l":-0.48},{"x":38935,"h":0.45,"l":-0.45},{"x":39020,"h":0.79,"l":-0.54},{"x":39110,"h":0.45,"l":-0.46},{"x":39200,"h":0.58,"l":-0.62},{"x":39340,"h":0.45,"l":-0.46},{"x":39480,"h":0.64,"l":-0.63},{"x":39565,"h":0.45,"l":-0.45},{"x":39650,"h":0.5,"l":-0.55},{"x":39750,"h":0.45,"l":-0.46},{"x":39850,"h":0.51,"l":-0.67},{"x":39925,"h":0.46,"l":-0.46},{"x":40000,"h":0.62,"l":-0.55},{"x":40075,"h":0.48,"l":-0.5},{"x":40150,"h":0.79,"l":-0.8},{"x":40225,"h":0.48,"l":-0.5},{"x":40300,"h":0.55,"l":-0.62},{"x":40400,"h":0.46,"l":-0.48},{"x":40500,"h":0.6,"l":-0.76},{"x":40575,"h":0.46,"l":-0.48},{"x":40650,"h":0.52,"l":-0.58},{"x":40710,"h":0.45,"l":-0.46},{"x":40770,"h":0.74,"l":-0.63},{"x":40860,"h":0.45,"l":-0.45},{"x":40950,"h":0.55,"l":-0.52},{"x":41045,"h":0.44,"l":-0.44},{"x":41140,"h":0.53,"l":-0.54},{"x":41220,"h":0.42,"l":-0.42},{"x":41300,"h":0.48,"l":-0.46},{"x":41405,"h":0.42,"l":-0.42},{"x":41510,"h":0.68,"l":-0.63},{"x":41605,"h":0.42,"l":-0.42},{"x":41700,"h":0.5,"l":-0.5},{"x":41790,"h":0.4,"l":-0.4},{"x":41880,"h":0.58,"l":-0.45},{"x":41970,"h":0.4,"l":-0.4},{"x":42060,"h":0.58,"l":-0.5},{"x":42155,"h":0.38,"l":-0.38},{"x":42250,"h":0.45,"l":-0.45},{"x":42385,"h":0.37,"l":-0.37},{"x":42520,"h":0.55,"l":-0.46},{"x":42635,"h":0.36,"l":-0.36},{"x":42750,"h":0.4,"l":-0.42},{"x":42865,"h":0.34,"l":-0.34},{"x":42980,"h":0.43,"l":-0.44},{"x":43065,"h":0.33,"l":-0.33},{"x":43150,"h":0.38,"l":-0.38},
{"x":43350,"h":0.39,"l":-0.37},{"x":43550,"h":0.3,"l":-0.32},{"x":43800,"h":0.3,"l":-0.35},{"x":44000,"h":0.2,"l":-0.21},{"x":44170,"h":0.17,"l":-0.18},{"x":44400,"h":0.22,"l":-0.22},{"x":44630,"h":0.39,"l":-0.29},{"x":44850,"h":0.26,"l":-0.22},{"x":45080,"h":0.24,"l":-0.2},{"x":45350,"h":0.22,"l":-0.21},{"x":45650,"h":0.22,"l":-0.2},{"x":45850,"h":0.19,"l":-0.18},{"x":46000,"h":0.17,"l":-0.16},{"x":46200,"h":0.2,"l":-0.17},{"x":46340,"h":0.22,"l":-0.18},{"x":46480,"h":0.3,"l":-0.28},
{"x":46570,"h":0.41,"l":-0.4},{"x":46660,"h":0.4,"l":-0.4},{"x":46750,"h":0.48,"l":-0.52},{"x":46830,"h":0.42,"l":-0.42},{"x":46910,"h":0.53,"l":-0.56},{"x":46995,"h":0.44,"l":-0.44},{"x":47080,"h":0.62,"l":-0.5},{"x":47165,"h":0.45,"l":-0.45},{"x":47250,"h":0.64,"l":-0.65},{"x":47350,"h":0.45,"l":-0.45},{"x":47450,"h":0.55,"l":-0.55},{"x":47580,"h":0.45,"l":-0.45},{"x":47710,"h":0.53,"l":-0.59},{"x":47805,"h":0.45,"l":-0.45},{"x":47900,"h":0.62,"l":-0.52},{"x":48035,"h":0.46,"l":-0.46},{"x":48170,"h":0.74,"l":-0.63},{"x":48285,"h":0.46,"l":-0.46},{"x":48400,"h":0.58,"l":-0.6},{"x":48515,"h":0.46,"l":-0.46},{"x":48630,"h":0.62,"l":-0.71},{"x":48715,"h":0.46,"l":-0.46},{"x":48800,"h":0.55,"l":-0.56},{"x":48885,"h":0.46,"l":-0.46},{"x":48970,"h":0.79,"l":-0.6},{"x":49085,"h":0.46,"l":-0.46},{"x":49200,"h":0.6,"l":-0.55},{"x":49315,"h":0.45,"l":-0.45},{"x":49430,"h":0.72,"l":-0.6},{"x":49515,"h":0.45,"l":-0.45},{"x":49600,"h":0.55,"l":-0.62},{"x":49685,"h":0.45,"l":-0.45},{"x":49770,"h":0.6,"l":-0.69},{"x":49895,"h":0.44,"l":-0.44},{"x":50020,"h":0.53,"l":-0.52},{"x":50110,"h":0.42,"l":-0.42},{"x":50200,"h":0.48,"l":-0.56},{"x":50270,"h":0.42,"l":-0.42},{"x":50340,"h":0.55,"l":-0.54},{"x":50470,"h":0.4,"l":-0.4},{"x":50600,"h":0.5,"l":-0.5},{"x":50700,"h":0.4,"l":-0.4},{"x":50800,"h":0.66,"l":-0.61},{"x":50900,"h":0.38,"l":-0.38},{"x":51000,"h":0.45,"l":-0.48},{"x":51125,"h":0.37,"l":-0.37},{"x":51250,"h":0.47,"l":-0.5},{"x":51350,"h":0.35,"l":-0.35},{"x":51450,"h":0.4,"l":-0.42},{"x":51580,"h":0.33,"l":-0.33},{"x":51710,"h":0.36,"l":-0.44},
{"x":51950,"h":0.42,"l":-0.38},{"x":52280,"h":0.34,"l":-0.4},{"x":52550,"h":0.38,"l":-0.35},{"x":52850,"h":0.32,"l":-0.33},{"x":53100,"h":0.35,"l":-0.32},{"x":53430,"h":0.3,"l":-0.31},{"x":53700,"h":0.33,"l":-0.3},{"x":54000,"h":0.3,"l":-0.31},{"x":54300,"h":0.28,"l":-0.28},{"x":54680,"h":0.28,"l":-0.27},{"x":54900,"h":0.3,"l":-0.25},{"x":55140,"h":0.24,"l":-0.25},{"x":55300,"h":0.22,"l":-0.21},{"x":55480,"h":0.2,"l":-0.2},{"x":55600,"h":0.28,"l":-0.3},
{"x":55710,"h":0.41,"l":-0.4},{"x":55795,"h":0.45,"l":-0.45},{"x":55880,"h":0.6,"l":-0.55},{"x":55965,"h":0.48,"l":-0.48},{"x":56050,"h":0.74,"l":-0.6},{"x":56140,"h":0.48,"l":-0.48},{"x":56230,"h":0.58,"l":-0.66},{"x":56315,"h":0.48,"l":-0.48},{"x":56400,"h":0.62,"l":-0.63},{"x":56500,"h":0.46,"l":-0.46},{"x":56600,"h":0.55,"l":-0.58},{"x":56730,"h":0.45,"l":-0.45},{"x":56860,"h":0.51,"l":-0.54},{"x":56930,"h":0.45,"l":-0.45},{"x":57000,"h":0.62,"l":-0.6},{"x":57100,"h":0.46,"l":-0.46},{"x":57200,"h":0.7,"l":-0.6},{"x":57300,"h":0.46,"l":-0.46},{"x":57400,"h":0.55,"l":-0.66},{"x":57530,"h":0.46,"l":-0.46},{"x":57660,"h":0.56,"l":-0.69},{"x":57740,"h":0.46,"l":-0.46},{"x":57820,"h":0.5,"l":-0.6},{"x":57910,"h":0.46,"l":-0.47},{"x":58000,"h":0.68,"l":-0.8},{"x":58075,"h":0.46,"l":-0.48},{"x":58150,"h":0.55,"l":-0.58},{"x":58245,"h":0.46,"l":-0.46},{"x":58340,"h":0.62,"l":-0.65},{"x":58445,"h":0.46,"l":-0.46},{"x":58550,"h":0.52,"l":-0.6},{"x":58675,"h":0.46,"l":-0.47},{"x":58800,"h":0.77,"l":-0.73},{"x":58900,"h":0.47,"l":-0.47},{"x":59000,"h":0.58,"l":-0.62},{"x":59130,"h":0.47,"l":-0.48},{"x":59260,"h":0.66,"l":-0.8},{"x":59355,"h":0.46,"l":-0.47},{"x":59450,"h":0.52,"l":-0.58},{"x":59640,"h":0.46,"l":-0.47},{"x":59830,"h":0.58,"l":-0.61},{"x":59945,"h":0.45,"l":-0.47},{"x":60060,"h":0.49,"l":-0.65},{"x":60155,"h":0.45,"l":-0.46},{"x":60250,"h":0.55,"l":-0.58},{"x":60325,"h":0.45,"l":-0.46},{"x":60400,"h":0.68,"l":-0.69},{"x":60500,"h":0.45,"l":-0.45},{"x":60600,"h":0.52,"l":-0.55},{"x":60730,"h":0.44,"l":-0.44},{"x":60860,"h":0.6,"l":-0.61},{"x":60980,"h":0.42,"l":-0.43},{"x":61100,"h":0.48,"l":-0.55},{"x":61205,"h":0.42,"l":-0.42},{"x":61310,"h":0.47,"l":-0.61},{"x":61430,"h":0.4,"l":-0.41},{"x":61550,"h":0.42,"l":-0.5},{"x":61660,"h":0.4,"l":-0.41},{"x":61770,"h":0.53,"l":-0.54},{"x":61885,"h":0.39,"l":-0.4},{"x":62000,"h":0.42,"l":-0.48},{"x":62115,"h":0.37,"l":-0.39},{"x":62230,"h":0.36,"l":-0.48},{"x":62340,"h":0.37,"l":-0.38},{"x":62450,"h":0.45,"l":-0.45},{"x":62570,"h":0.37,"l":-0.38},{"x":62690,"h":0.41,"l":-0.54},{"x":62795,"h":0.37,"l":-0.38},{"x":62900,"h":0.48,"l":-0.45},{"x":63020,"h":0.38,"l":-0.38},{"x":63140,"h":0.49,"l":-0.52},{"x":63270,"h":0.38,"l":-0.38},{"x":63400,"h":0.42,"l":-0.46},{"x":63500,"h":0.38,"l":-0.38},{"x":63600,"h":0.45,"l":-0.48},{"x":63715,"h":0.38,"l":-0.39},{"x":63830,"h":0.66,"l":-0.48},{"x":63940,"h":0.38,"l":-0.39},{"x":64050,"h":0.45,"l":-0.5},{"x":64170,"h":0.36,"l":-0.38},{"x":64290,"h":0.41,"l":-0.54},{"x":64395,"h":0.35,"l":-0.36},{"x":64500,"h":0.35,"l":-0.5},{"x":64620,"h":0.33,"l":-0.36},{"x":64740,"h":0.32,"l":-0.56},{"x":64845,"h":0.33,"l":-0.35},{"x":64950,"h":0.4,"l":-0.45},{"x":65075,"h":0.33,"l":-0.34},{"x":65200,"h":0.49,"l":-0.4},{"x":65315,"h":0.32,"l":-0.33},{"x":65430,"h":0.36,"l":-0.36},{"x":65536,"h":0.3,"l":-0.35}]
},
"vconcat": [
{"hconcat": [
 {"width": 530, "height": 105,
  "layer": [
   {"data": {"name": "blocks"}, "mark": {"type": "line", "interpolate": "step-after", "color": "#231f20", "strokeWidth": 1.3},
    "encoding": {
     "x": {"field": "x", "type": "quantitative", "scale": {"domain": [1, 8192], "nice": false, "zero": false},
      "axis": {"orient": "bottom", "values": [1000,2000,3000,4000,5000,6000,7000,8000], "format": "d", "title": "Sample", "titleX": 265, "titleY": 49, "titleBaseline": "middle", "tickSize": -6, "labelPadding": 14, "minExtent": 62}},
     "y": {"field": "y", "type": "quantitative", "scale": {"domain": [-3, 8], "nice": false, "zero": false},
      "axis": {"orient": "left", "values": [-2,0,2,4,6,8], "format": "~g", "title": "Amplitude", "titleX": -53, "titleY": 52.5, "titleBaseline": "middle", "titleAngle": 270, "tickSize": -6, "labelPadding": 15, "labelFontSize": 18.5, "minExtent": 85}}
    }},
   {"data": {"name": "blocks"}, "mark": {"type": "line", "strokeOpacity": 0},
    "encoding": {
     "x": {"field": "x", "type": "quantitative", "scale": {"domain": [1, 8192], "nice": false, "zero": false},
      "axis": {"orient": "top", "values": [1000,2000,3000,4000,5000,6000,7000,8000], "labels": false, "title": "Blocks", "titleX": 265, "titleY": -18, "titleBaseline": "middle", "titleAngle": 0, "tickSize": -6, "minExtent": 30}},
     "y": {"field": "y", "type": "quantitative", "scale": {"domain": [-3, 8], "nice": false, "zero": false},
      "axis": {"orient": "right", "values": [-2,0,2,4,6,8], "labels": false, "title": null, "tickSize": -6, "minExtent": 0}}
    }}
  ],
  "resolve": {"axis": {"x": "independent", "y": "independent"}}
 },
 {"width": 533, "height": 105,
  "layer": [
   {"data": {"name": "chirp"}, "mark": {"type": "line", "color": "#231f20", "strokeWidth": 0.8},
    "encoding": {
     "x": {"field": "x", "type": "quantitative", "scale": {"domain": [1, 8192], "nice": false, "zero": false},
      "axis": {"orient": "bottom", "values": [1000,2000,3000,4000,5000,6000,7000,8000], "format": "d", "title": "Sample", "titleX": 266.5, "titleY": 49, "titleBaseline": "middle", "tickSize": -6, "labelPadding": 14, "minExtent": 62}},
     "y": {"field": "y", "type": "quantitative", "scale": {"domain": [-1, 1], "nice": false, "zero": false},
      "axis": {"orient": "left", "values": [-1,-0.5,0,0.5,1], "format": "~g", "title": "Amplitude", "titleX": -70, "titleY": 52.5, "titleBaseline": "middle", "titleAngle": 270, "tickSize": -6, "labelPadding": 15}}
    }},
   {"data": {"name": "chirpband"}, "mark": {"type": "area", "color": "#231f20"},
    "encoding": {
     "x": {"field": "x", "type": "quantitative", "scale": {"domain": [1, 8192], "nice": false, "zero": false}, "axis": null},
     "y": {"field": "h", "type": "quantitative", "scale": {"domain": [-1, 1], "nice": false, "zero": false}, "axis": null},
     "y2": {"field": "l"}
    }},
   {"data": {"name": "chirp"}, "mark": {"type": "line", "strokeOpacity": 0},
    "encoding": {
     "x": {"field": "x", "type": "quantitative", "scale": {"domain": [1, 8192], "nice": false, "zero": false},
      "axis": {"orient": "top", "values": [1000,2000,3000,4000,5000,6000,7000,8000], "labels": false, "title": "Quadchirp", "titleX": 266.5, "titleY": -18, "titleBaseline": "middle", "titleAngle": 0, "tickSize": -6, "minExtent": 30}},
     "y": {"field": "y", "type": "quantitative", "scale": {"domain": [-1, 1], "nice": false, "zero": false},
      "axis": {"orient": "right", "values": [-1,-0.5,0,0.5,1], "labels": false, "title": null, "tickSize": -6, "minExtent": 0}}
    }}
  ],
  "resolve": {"axis": {"x": "independent", "y": "independent"}}
 }
], "spacing": 123, "bounds": "flush"},
{"hconcat": [
 {"width": 531, "height": 104.5,
  "layer": [
   {"data": {"name": "multitone"}, "mark": {"type": "area", "interpolate": "step-after", "color": "#231f20"},
    "encoding": {
     "x": {"field": "x", "type": "quantitative", "scale": {"domain": [1, 8192], "nice": false, "zero": false},
      "axis": {"orient": "bottom", "values": [1000,2000,3000,4000,5000,6000,7000,8000], "format": "d", "title": "Sample", "titleX": 265.5, "titleY": 51, "titleBaseline": "middle", "tickSize": -6, "labelPadding": 14, "minExtent": 62}},
     "y": {"field": "h", "type": "quantitative", "scale": {"domain": [-2, 2], "nice": false, "zero": false},
      "axis": {"orient": "left", "values": [-2,-1,0,1,2], "format": "~g", "title": "Amplitude", "titleX": -53, "titleY": 52, "titleBaseline": "middle", "titleAngle": 270, "tickSize": -6, "labelPadding": 15, "minExtent": 85}},
     "y2": {"field": "l"}
    }},
   {"data": {"name": "multitone"}, "mark": {"type": "line", "strokeOpacity": 0},
    "encoding": {
     "x": {"field": "x", "type": "quantitative", "scale": {"domain": [1, 8192], "nice": false, "zero": false},
      "axis": {"orient": "top", "values": [1000,2000,3000,4000,5000,6000,7000,8000], "labels": false, "title": "Multitone", "titleX": 265.5, "titleY": -19, "titleBaseline": "middle", "titleAngle": 0, "tickSize": -6, "minExtent": 57}},
     "y": {"field": "h", "type": "quantitative", "scale": {"domain": [-2, 2], "nice": false, "zero": false},
      "axis": {"orient": "right", "values": [-2,-1,0,1,2], "labels": false, "title": null, "tickSize": -6, "minExtent": 0}}
    }}
  ],
  "resolve": {"axis": {"x": "independent", "y": "independent"}}
 },
 {"width": 529, "height": 104.5,
  "layer": [
   {"data": {"name": "multiband"}, "mark": {"type": "area", "color": "#231f20"},
    "encoding": {
     "x": {"field": "x", "type": "quantitative", "scale": {"domain": [1, 8192], "nice": false, "zero": false},
      "axis": {"orient": "bottom", "values": [1000,2000,3000,4000,5000,6000,7000,8000], "format": "d", "title": "Sample", "titleX": 264.5, "titleY": 51, "titleBaseline": "middle", "tickSize": -6, "labelPadding": 14, "minExtent": 62}},
     "y": {"field": "h", "type": "quantitative", "scale": {"domain": [-2, 2], "nice": false, "zero": false},
      "axis": {"orient": "left", "values": [-2,-1,0,1,2], "format": "~g", "title": "Amplitude", "titleX": -53, "titleY": 52, "titleBaseline": "middle", "titleAngle": 270, "tickSize": -6, "labelPadding": 15}},
     "y2": {"field": "l"}
    }},
   {"data": {"name": "multiband"}, "mark": {"type": "line", "strokeOpacity": 0},
    "encoding": {
     "x": {"field": "x", "type": "quantitative", "scale": {"domain": [1, 8192], "nice": false, "zero": false},
      "axis": {"orient": "top", "values": [1000,2000,3000,4000,5000,6000,7000,8000], "labels": false, "title": "Multiband", "titleX": 264.5, "titleY": -19, "titleBaseline": "middle", "titleAngle": 0, "tickSize": -6, "minExtent": 57}},
     "y": {"field": "h", "type": "quantitative", "scale": {"domain": [-2, 2], "nice": false, "zero": false},
      "axis": {"orient": "right", "values": [-2,-1,0,1,2], "labels": false, "title": null, "tickSize": -6, "minExtent": 0}}
    }}
  ],
  "resolve": {"axis": {"x": "independent", "y": "independent"}}
 }
], "spacing": 126, "bounds": "flush"},
{"width": 1186, "height": 158,
 "layer": [
  {"data": {"name": "audio"}, "mark": {"type": "area", "color": "#231f20"},
   "encoding": {
    "x": {"field": "x", "type": "quantitative", "scale": {"domain": [1, 65536], "nice": false, "zero": false},
     "axis": {"orient": "bottom", "values": [10000,20000,30000,40000,50000,60000], "labelExpr": "format(datum.value / 10000, 'd')", "title": "Sample", "titleX": 593, "titleY": 49, "titleBaseline": "middle", "tickSize": -11, "labelPadding": 19, "minExtent": 62}},
    "y": {"field": "h", "type": "quantitative", "scale": {"domain": [-1, 1], "nice": false, "zero": false},
     "axis": {"orient": "left", "values": [-1,-0.5,0,0.5,1], "format": "~g", "title": "Amplitude", "titleX": -67, "titleY": 79, "titleBaseline": "middle", "titleAngle": 270, "tickSize": -11, "labelPadding": 20, "minExtent": 85}},
    "y2": {"field": "l"}
   }},
  {"data": {"name": "audio"}, "mark": {"type": "line", "strokeOpacity": 0},
   "encoding": {
    "x": {"field": "x", "type": "quantitative", "scale": {"domain": [1, 65536], "nice": false, "zero": false},
     "axis": {"orient": "top", "values": [10000,20000,30000,40000,50000,60000], "labels": false, "title": "Real audio signal", "titleX": 593, "titleY": -17, "titleBaseline": "middle", "titleAngle": 0, "tickSize": -11, "minExtent": 36.5}},
    "y": {"field": "h", "type": "quantitative", "scale": {"domain": [-1, 1], "nice": false, "zero": false},
     "axis": {"orient": "right", "values": [-1,-0.5,0,0.5,1], "labels": false, "title": "×10⁴", "titleX": -4, "titleY": 207, "titleAngle": 0, "titleAlign": "center", "titleBaseline": "middle", "tickSize": -11, "minExtent": 0}}
   }}
 ],
 "resolve": {"axis": {"x": "independent", "y": "independent"}}
}
],
"config": {
 "view": {"stroke": null},
 "font": "Liberation Serif",
 "axis": {"grid": false, "domainColor": "#231f20", "tickColor": "#231f20", "labelColor": "#231f20", "titleColor": "#231f20", "labelFont": "Liberation Serif", "titleFont": "Liberation Serif", "labelFontSize": 19, "titleFontSize": 21, "titleFontWeight": "normal", "domainWidth": 1, "tickWidth": 1, "labelFlush": false, "labelOverlap": false, "maxExtent": 300}
}
}
